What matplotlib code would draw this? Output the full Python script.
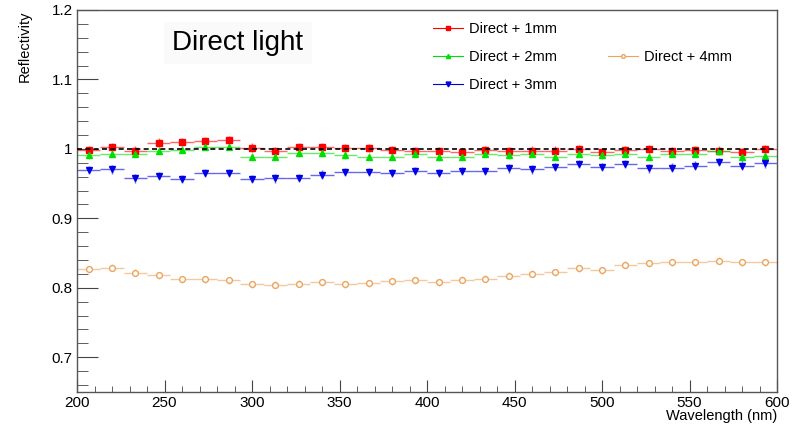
import numpy as np
import matplotlib.pyplot as plt
from matplotlib.lines import Line2D
from matplotlib.ticker import MultipleLocator, FuncFormatter

plt.rcParams['font.family'] = ['Liberation Sans', 'DejaVu Sans']

# bin centres (nm), 30 bins of 400/30 nm between 200 and 600
wl = np.linspace(200, 600, 31)
wl = 0.5*(wl[1:]+wl[:-1])
wl_err = 0.5*(400/30)

r1mm = [0.9986, 1.0025, 0.9975, 1.009, 1.010, 1.0116, 1.013, 1.002, 0.997, 1.003,
        1.003, 1.001, 1.001, 0.9986, 0.997, 0.997, 0.996, 0.9986, 0.997, 0.9975,
        0.9975, 1.000, 0.996, 0.9986, 0.9995, 0.997, 0.9986, 0.9975, 0.995, 0.9995]
r2mm = [0.991, 0.993, 0.993, 0.9975, 0.9986, 1.003, 1.003, 0.989, 0.989, 0.994,
        0.994, 0.991, 0.989, 0.989, 0.993, 0.988, 0.989, 0.993, 0.991, 0.993,
        0.989, 0.993, 0.991, 0.993, 0.989, 0.993, 0.993, 0.9975, 0.988, 0.990]
r3mm = [0.9696, 0.9705, 0.9575, 0.961, 0.9565, 0.965, 0.965, 0.9565, 0.9575, 0.958,
        0.963, 0.967, 0.967, 0.9657, 0.9686, 0.9657, 0.968, 0.968, 0.972, 0.9705,
        0.9743, 0.978, 0.9740, 0.978, 0.972, 0.973, 0.976, 0.9816, 0.976, 0.979]
r4mm = [0.827, 0.829, 0.822, 0.818, 0.812, 0.8125, 0.8106, 0.8054, 0.8043, 0.8058,
        0.8077, 0.8054, 0.8068, 0.8091, 0.8106, 0.8082, 0.8115, 0.813, 0.8177, 0.820,
        0.8226, 0.8283, 0.825, 0.833, 0.8355, 0.837, 0.837, 0.839, 0.837, 0.837]

err1mm = [0.006]*30
err2mm = [0.005]*30
err3mm = [0.006]*30
err4mm = [0.005]*30

labels = ['Direct + 1mm', 'Direct + 2mm', 'Direct + 3mm', 'Direct + 4mm']
colors = ['#ff0000', '#00e000', '#0000e6', '#eba55e']
markers = ['s', '^', 'v', 'o']
msizes = [5, 4.5, 5, 4.2]

fig = plt.figure(figsize=(8.04, 4.28), dpi=100)
ax = fig.add_axes([77/804, 36/428, 700/804, 382/428])

series = [(r1mm, err1mm), (r2mm, err2mm), (r3mm, err3mm), (r4mm, err4mm)]
handles = []
for k in range(4):
    y, ye = series[k]
    ax.errorbar(wl, y, xerr=wl_err, yerr=ye, fmt='none', ecolor=colors[k],
                elinewidth=1, alpha=0.6, capsize=0, zorder=2)
    mfc = 'white' if markers[k] == 'o' else colors[k]
    ax.plot(wl, y, ls='none', marker=markers[k], ms=msizes[k], color=colors[k],
            mfc=mfc, mew=1, zorder=3)
    handles.append(Line2D([], [], color=colors[k], marker=markers[k], ms=msizes[k]-1.5,
                          mfc=mfc, lw=0.8))

ax.axhline(1.0, color='black', ls=(0, (3, 2)), lw=1.2, zorder=4)

ax.set_xlim(200, 600)
ax.set_ylim(0.65, 1.2)
ax.xaxis.set_major_locator(MultipleLocator(50))
ax.xaxis.set_minor_locator(MultipleLocator(10))
ax.yaxis.set_major_locator(MultipleLocator(0.1))
ax.yaxis.set_minor_locator(MultipleLocator(0.02))
ax.xaxis.set_major_formatter(FuncFormatter(lambda v, p: '%g' % round(v, 3)))
ax.yaxis.set_major_formatter(FuncFormatter(lambda v, p: '%g' % round(v, 3)))
ax.tick_params(axis='both', which='both', direction='in', color='#444444',
               labelsize=11, top=False, right=False)
ax.tick_params(axis='x', which='major', length=8.3, pad=3)
ax.tick_params(axis='x', which='minor', length=4.1)
ax.tick_params(axis='y', which='major', length=15.1, pad=3)
ax.tick_params(axis='y', which='minor', length=7.6)
for s in ax.spines.values():
    s.set_color('#555555')
    s.set_linewidth(1)

fig.text(25/804, 1-10/428, 'Reflectivity', rotation=90, ha='center', va='top', fontsize=10.5)
fig.text(777/804, 1-409/428, 'Wavelength (nm)', ha='right', va='top', fontsize=10.5)

fig.text(238/804, 1-50/428, 'Direct light', ha='center', va='baseline', fontsize=20,
         bbox=dict(facecolor='#fafafa', edgecolor='none', pad=6))

leg1 = fig.legend(handles[:3], labels[:3], loc='center left',
                  bbox_to_anchor=(433/804, 1-57/428), frameon=False, fontsize=10.5,
                  handlelength=2.05, handletextpad=0.45, borderpad=0,
                  borderaxespad=0, labelspacing=0.95)
leg2 = fig.legend(handles[3:], labels[3:], loc='center left',
                  bbox_to_anchor=(608/804, 1-57/428), frameon=False, fontsize=10.5,
                  handlelength=2.05, handletextpad=0.45, borderpad=0,
                  borderaxespad=0)

fig.savefig('out.png', dpi=100)
